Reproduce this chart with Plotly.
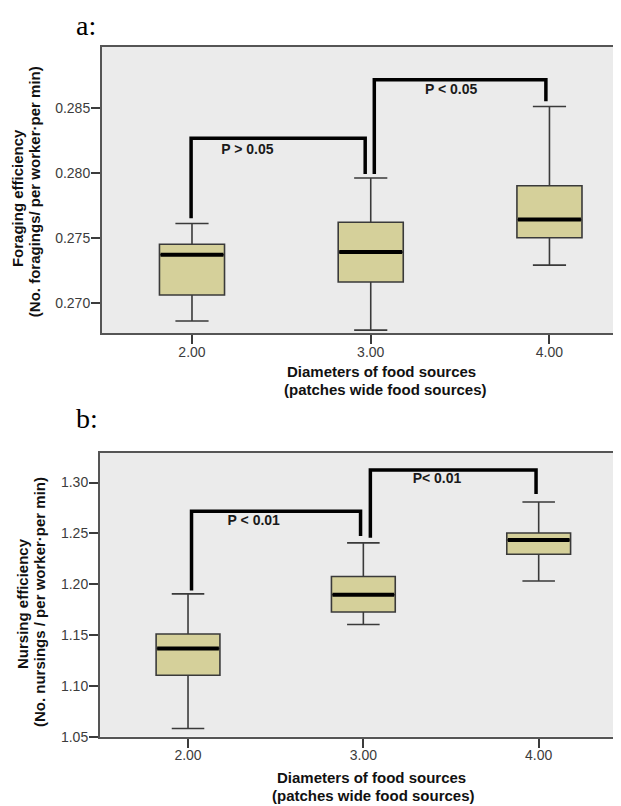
import plotly.graph_objects as go

W, H = 621, 806

# ---------------- data ----------------
diameters = [2.0, 3.0, 4.0]

# panel a: foraging efficiency
fa_lower = [0.2686, 0.2679, 0.2729]
fa_q1 = [0.2706, 0.2716, 0.2750]
fa_median = [0.2737, 0.2739, 0.2764]
fa_q3 = [0.2745, 0.2762, 0.2790]
fa_upper = [0.2761, 0.2796, 0.2851]

# panel b: nursing efficiency
nu_lower = [1.0581, 1.1604, 1.2032]
nu_q1 = [1.1104, 1.1727, 1.2295]
nu_median = [1.1367, 1.1896, 1.2435]
nu_q3 = [1.1510, 1.2075, 1.2503]
nu_upper = [1.1905, 1.2406, 1.2808]

# significance brackets (x, y in data units)
fa_br1_x = [1.995, 1.995, 2.969, 2.969]
fa_br1_y = [0.2765, 0.28266, 0.28266, 0.2799]
fa_br2_x = [3.02, 3.02, 3.98, 3.98]
fa_br2_y = [0.2799, 0.28715, 0.28715, 0.2855]
fa_labels = ["P > 0.05", "P < 0.05"]
fa_label_x = [2.31, 3.45]
fa_label_y = [0.28173, 0.28635]

nu_br1_x = [2.02, 2.02, 2.984, 2.984]
nu_br1_y = [1.1939, 1.2718, 1.2718, 1.2474]
nu_br2_x = [3.04, 3.04, 3.985, 3.985]
nu_br2_y = [1.2458, 1.3123, 1.3123, 1.2886]
nu_labels = ["P < 0.01", "P< 0.01"]
nu_label_x = [2.375, 3.42]
nu_label_y = [1.2614, 1.3026]

fa_ticks = [0.270, 0.275, 0.280, 0.285]
nu_ticks = [1.05, 1.10, 1.15, 1.20, 1.25, 1.30]
x_ticks = [2.0, 3.0, 4.0]

# ---------------- style ----------------
BOX_W = 0.364
FILL = "#d5d09a"
EDGE = "#3a3a3a"
BG = "#ebebeb"
AXC = "#555555"
TICKC = "#3c3c3c"
SANS = "Liberation Sans, Arial, sans-serif"
SERIF = "Liberation Serif, Times New Roman, serif"


def px(x):
    return x / W


def py(y):
    return 1 - y / H


fig = go.Figure()


def add_panel(xa, ya, lower, q1, med, q3, upper, brs, labels, lx, ly):
    fig.add_trace(go.Box(
        x=diameters, lowerfence=lower, q1=q1, median=med, q3=q3, upperfence=upper,
        width=BOX_W, whiskerwidth=0.51, fillcolor=FILL,
        line=dict(color=EDGE, width=1.6), boxpoints=False,
        xaxis=xa, yaxis=ya, showlegend=False, hoverinfo="skip"))
    mx, my = [], []
    for d, m in zip(diameters, med):
        mx += [d - BOX_W / 2 + 0.006, d + BOX_W / 2 - 0.006, None]
        my += [m, m, None]
    fig.add_trace(go.Scatter(x=mx, y=my, mode="lines",
                             line=dict(color="black", width=4),
                             xaxis=xa, yaxis=ya, showlegend=False, hoverinfo="skip"))
    for bx, by in brs:
        fig.add_trace(go.Scatter(x=bx, y=by, mode="lines",
                                 line=dict(color="black", width=3.5),
                                 xaxis=xa, yaxis=ya, showlegend=False, hoverinfo="skip"))
    fig.add_trace(go.Scatter(x=lx, y=ly, mode="text", text=labels,
                             textfont=dict(family=SANS, size=14, color="#1a1a1a", weight="bold"),
                             xaxis=xa, yaxis=ya, showlegend=False, hoverinfo="skip"))


add_panel("x", "y", fa_lower, fa_q1, fa_median, fa_q3, fa_upper,
          [(fa_br1_x, fa_br1_y), (fa_br2_x, fa_br2_y)], fa_labels, fa_label_x, fa_label_y)
add_panel("x2", "y2", nu_lower, nu_q1, nu_median, nu_q3, nu_upper,
          [(nu_br1_x, nu_br1_y), (nu_br2_x, nu_br2_y)], nu_labels, nu_label_x, nu_label_y)

axis_common = dict(showgrid=False, zeroline=False, showline=True, linecolor=AXC, linewidth=2,
                   ticks="outside", ticklen=9, tickwidth=1.5, tickcolor=TICKC,
                   tickfont=dict(family=SANS, size=14, color=TICKC))

fig.update_layout(
    width=W, height=H, margin=dict(l=0, r=0, t=0, b=0),
    paper_bgcolor="white", plot_bgcolor=BG, showlegend=False,
    xaxis=dict(domain=[px(94), 1.0], range=[1.4965, 4.445], tickvals=x_ticks,
               ticktext=["2.00", "3.00", "4.00"], anchor="y", mirror=True,
               ticklabelstandoff=-4, **axis_common),
    yaxis=dict(domain=[py(328.5), py(39.3)], range=[0.26766, 0.28968], tickvals=fa_ticks,
               ticktext=["0.270", "0.275", "0.280", "0.285"], anchor="x", mirror=False,
               ticklabelstandoff=-2, **axis_common),
    xaxis2=dict(domain=[px(92), px(618)], range=[1.498, 4.498], tickvals=x_ticks,
                ticktext=["2.00", "3.00", "4.00"], anchor="y2", mirror=True,
                ticklabelstandoff=-4, **axis_common),
    yaxis2=dict(domain=[py(736), py(449)], range=[1.05, 1.3295], tickvals=nu_ticks,
                ticktext=["1.05", "1.10", "1.15", "1.20", "1.25", "1.30"], anchor="x2", mirror=True,
                ticklabelstandoff=-2, **axis_common),
)

ann = [
    ("a:", 66, 0, SERIF, 28, "normal", 0, "left", "top"),
    ("b:", 66, 415, SERIF, 28, "normal", 0, "left", "middle"),
    ("Foraging efficiency", 9, 192, SANS, 15, "bold", -90, "center", "middle"),
    ("(No. foragings/ per worker\u00b7per min)", 26, 186, SANS, 15, "bold", -90, "center", "middle"),
    ("Diameters of food sources", 373, 367, SANS, 15, "bold", 0, "center", "middle"),
    ("(patches wide food sources)", 377, 385, SANS, 15, "bold", 0, "center", "middle"),
    ("Nursing efficiency", 14, 602, SANS, 15, "bold", -90, "center", "middle"),
    ("(No. nursings / per worker\u00b7per min)", 31, 600, SANS, 15, "bold", -90, "center", "middle"),
    ("Diameters of food sources", 363, 777, SANS, 15, "bold", 0, "center", "middle"),
    ("(patches wide food sources)", 366, 795, SANS, 15, "bold", 0, "center", "middle"),
]
for text, x, y, fam, size, weight, rot, xanchor, yanchor in ann:
    fig.add_annotation(text=text, x=px(x), y=py(y), xref="paper", yref="paper",
                       xanchor=xanchor, yanchor=yanchor, showarrow=False, textangle=rot,
                       font=dict(family=fam, size=size, color="black" if fam == SERIF else "#111111",
                                 weight=weight))

fig.write_html("out.html")
